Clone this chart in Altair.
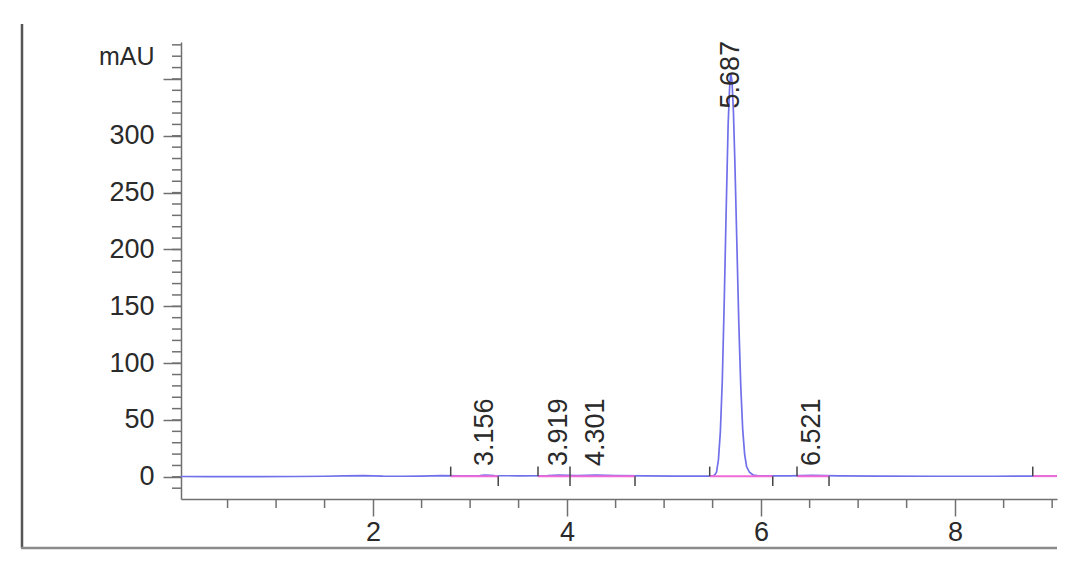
import altair as alt
import pandas as pd

# ---- data ----
trace_time = [0.02, 0.3, 0.8, 1.2, 1.5, 1.7, 1.9, 2.1, 2.3, 2.5, 2.7, 2.9, 3.1, 3.156, 3.25,
              3.5, 3.8, 3.919, 4.1, 4.301, 4.5, 4.8, 5.1, 5.3, 5.45, 5.50, 5.52, 5.54, 5.56,
              5.58, 5.60, 5.62, 5.64, 5.66, 5.675, 5.687, 5.70, 5.715, 5.73, 5.75, 5.77, 5.79,
              5.81, 5.83, 5.85, 5.88, 5.92, 5.97, 6.05, 6.3, 6.521, 6.8, 7.2, 7.8, 8.4, 8.8, 9.05]
trace_mau = [0.3, 0.2, 0.2, 0.3, 0.5, 0.9, 1.1, 0.6, 0.5, 0.7, 1.0, 0.9, 1.1, 1.6, 1.0,
             0.9, 1.0, 1.5, 1.1, 1.6, 1.1, 0.9, 0.7, 0.6, 0.6, 0.8, 1.5, 4, 15,
             40, 85, 155, 235, 310, 342, 355, 348, 320, 275, 205, 135, 80,
             42, 20, 9, 4, 1.5, 0.9, 0.8, 0.8, 1.3, 0.8, 0.6, 0.5, 0.5, 0.6, 0.6]

peak_rt = [3.156, 3.919, 4.301, 5.687, 6.521]
peak_label = ["3.156", "3.919", "4.301", "5.687", "6.521"]
peak_label_base = [9.5, 9.5, 9.5, 324, 9.5]

seg_start = [2.80, 3.70, 4.03, 5.47, 6.37, 8.80]
seg_end = [3.29, 4.03, 4.70, 6.12, 6.70, 9.05]
seg_level = [0.6, 0.6, 0.6, 0.6, 0.6, 0.6]
start_marks = [2.80, 3.70, 4.03, 5.47, 6.37, 8.80]
end_marks = [3.29, 4.03, 4.70, 6.12, 6.70]

y_major = [0, 50, 100, 150, 200, 250, 300, 350]
y_minor = list(range(-10, 390, 10))
x_major = [2, 4, 6, 8]
x_minor = [0.5, 1.0, 1.5, 2.5, 3.0, 3.5, 4.5, 5.0, 5.5, 6.5, 7.0, 7.5, 8.5, 9.0]

FONT = "Liberation Sans"
W, H = 876, 457
XDOM = [0.02, 9.05]
YDOM = [-19.5, 382.5]
TRACE = "#7070ea"
PINK = "#f06ad8"
AXIS = "#707070"
TEXT = "#2a2a2a"

xs = alt.Scale(domain=XDOM, nice=False, zero=False)
ys = alt.Scale(domain=YDOM, nice=False, zero=False)

trace_df = pd.DataFrame({"t": trace_time, "mAU": trace_mau})
seg_df = pd.DataFrame({"t": seg_start, "t2": seg_end, "mAU": seg_level})
start_df = pd.DataFrame({"t": start_marks, "mAU": [0.6] * len(start_marks), "top": [9.0] * len(start_marks)})
end_df = pd.DataFrame({"t": end_marks, "mAU": [0.6] * len(end_marks), "top": [-8.0] * len(end_marks)})
lab_df = pd.DataFrame({"t": peak_rt, "mAU": peak_label_base, "label": peak_label})
ymin_df = pd.DataFrame({"mAU": y_minor})
xmin_df = pd.DataFrame({"t": x_minor})

x_axis = alt.Axis(values=x_major, title=None, grid=False, tickSize=17, tickColor=AXIS,
                  tickWidth=1.5, domainColor=AXIS, domainWidth=1.5, labelFont=FONT,
                  labelFontSize=27, labelColor=TEXT, labelPadding=3)
y_axis = alt.Axis(values=y_major, title="mAU", grid=False, tickSize=18, tickColor=AXIS,
                  tickWidth=1.5, domainColor=AXIS, domainWidth=1.5, labelFont=FONT,
                  labelFontSize=27, labelColor=TEXT, labelPadding=9,
                  labelExpr="datum.value > 300 ? '' : datum.label",
                  titleAngle=0, titleAlign="right", titleBaseline="middle",
                  titleX=-27, titleY=14, titleFont=FONT, titleFontSize=25,
                  titleFontWeight="normal", titleColor=TEXT)

X = alt.X("t:Q", scale=xs, axis=x_axis)
Y = alt.Y("mAU:Q", scale=ys, axis=y_axis)

trace = alt.Chart(trace_df).mark_line(color=TRACE, strokeWidth=1.7, clip=True).encode(x=X, y=Y)

segs = alt.Chart(seg_df).mark_rule(color=PINK, strokeWidth=2).encode(x=X, x2="t2:Q", y=Y)

starts = alt.Chart(start_df).mark_rule(color="#444444", strokeWidth=1.5).encode(x=X, y=Y, y2="top:Q")
ends = alt.Chart(end_df).mark_rule(color="#444444", strokeWidth=1.5).encode(x=X, y=Y, y2="top:Q")

y_minor_ticks = alt.Chart(ymin_df).mark_rule(color=AXIS, strokeWidth=1.5).encode(
    y=Y, x=alt.value(0), x2=alt.value(-9),
)
x_minor_ticks = alt.Chart(xmin_df).mark_rule(color=AXIS, strokeWidth=1.5).encode(
    x=X, y=alt.value(H), y2=alt.value(H + 9),
)

labels = alt.Chart(lab_df).mark_text(angle=270, align="left", baseline="middle",
                                     font=FONT, fontSize=27, color=TEXT).encode(
    x=X, y=Y, text="label:N",
)

frame_left = alt.Chart(pd.DataFrame({"a": [0]})).mark_rule(color="#555555", strokeWidth=2.5).encode(
    x=alt.value(-159), y=alt.value(-18), y2=alt.value(506))
frame_bottom = alt.Chart(pd.DataFrame({"a": [0]})).mark_rule(color="#8a8a8a", strokeWidth=2.5).encode(
    x=alt.value(-160), x2=alt.value(W), y=alt.value(506))

chart = alt.layer(
    trace, segs, starts, ends, y_minor_ticks, x_minor_ticks, labels, frame_left, frame_bottom
).properties(
    width=W, height=H,
    background="white",
    autosize=alt.AutoSizeParams(type="none"),
    padding={"left": 173, "top": 34, "right": 15, "bottom": 60},
).configure_view(strokeWidth=0, stroke=None)

chart.save("out.html", embed_options={"renderer": "svg", "actions": False})
